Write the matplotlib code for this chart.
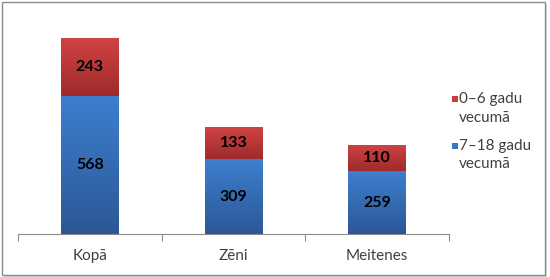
import matplotlib
matplotlib.use("Agg")
import matplotlib.pyplot as plt
import numpy as np
from matplotlib.patches import Rectangle
from matplotlib.colors import LinearSegmentedColormap

categories = ["Kopā", "Zēni", "Meitenes"]
series_names = ["7–18 gadu\nvecumā", "0–6 gadu\nvecumā"]
vals_7_18 = [568, 309, 259]
vals_0_6 = [243, 133, 110]

plt.rcParams['font.family'] = ['Lato', 'DejaVu Sans']

W, H = 550, 277
fig = plt.figure(figsize=(W / 100, H / 100), dpi=100)
fig.patch.set_facecolor('white')

def fx(px):
    return px / W

def fy(py):
    return 1 - py / H

# Frame with shadow
fig.patches.append(Rectangle((fx(4), fy(277)), 543 / W, 273 / H, transform=fig.transFigure,
                             facecolor='#d9d9d9', edgecolor='none', zorder=-3))
fig.patches.append(Rectangle((fx(2), fy(275)), 543 / W, 273 / H, transform=fig.transFigure,
                             facecolor='white', edgecolor='#8c8c8c', linewidth=1.0, zorder=-2))

ax = fig.add_axes([fx(18), fy(234), 431 / W, 218 / H])
ax.set_facecolor('none')

x = np.arange(len(categories))
width = 0.40

blue_cmap = LinearSegmentedColormap.from_list('b', ['#2c5796', '#3d7fcf'])
red_cmap = LinearSegmentedColormap.from_list('r', ['#9e2b2b', '#d14343'])

bars_b = ax.bar(x, vals_7_18, width, color='#3a78c4', zorder=2)
bars_r = ax.bar(x, vals_0_6, width, bottom=vals_7_18, color='#c83c3c', zorder=2)

grad = np.linspace(0, 1, 256).reshape(-1, 1)
for bars, cmap in ((bars_b, blue_cmap), (bars_r, red_cmap)):
    for p in bars:
        x0, y0 = p.get_x(), p.get_y()
        w, h = p.get_width(), p.get_height()
        im = ax.imshow(grad, cmap=cmap, aspect='auto', origin='lower',
                       extent=(x0, x0 + w, y0, y0 + h), zorder=3, interpolation='bicubic')
        im.set_clip_path(p)
        p.set_facecolor('none')
ax.set_xlim(-0.5, 2.5)
ax.set_ylim(0, 900)

for i in range(len(categories)):
    ax.text(x[i], vals_7_18[i] / 2, str(vals_7_18[i]), ha='center', va='center',
            fontsize=11.5, fontweight='bold', color='black', zorder=5)
    ax.text(x[i], vals_7_18[i] + vals_0_6[i] / 2, str(vals_0_6[i]), ha='center', va='center',
            fontsize=11.5, fontweight='bold', color='black', zorder=5)

for s in ['top', 'right', 'left']:
    ax.spines[s].set_visible(False)
ax.spines['bottom'].set_color('#8c8c8c')
ax.spines['bottom'].set_linewidth(0.8)
ax.set_yticks([])
ax.set_xticks(x)
ax.set_xticklabels(categories, fontsize=11, color='#404040')
ax.tick_params(axis='x', which='major', length=0, pad=11)
ax.set_xticks([-0.5, 0.5, 1.5, 2.5], minor=True)
ax.tick_params(axis='x', which='minor', length=5, color='#8c8c8c', width=0.8)

# Manual legend
legend_items = [(series_names[1], '#c83c3c', 99.5), (series_names[0], '#3a78c4', 146)]
for label, col, yc in legend_items:
    fig.patches.append(Rectangle((fx(452), fy(yc + 3)), 6 / W, 6 / H, transform=fig.transFigure,
                                 facecolor=col, edgecolor='none'))
    l1, l2 = label.split('\n')
    fig.text(fx(459), fy(yc), l1, ha='left', va='center', fontsize=11, color='#404040')
    fig.text(fx(459), fy(yc + 18), l2, ha='left', va='center', fontsize=11, color='#404040')

fig.savefig('out.png', dpi=100, facecolor='white')
